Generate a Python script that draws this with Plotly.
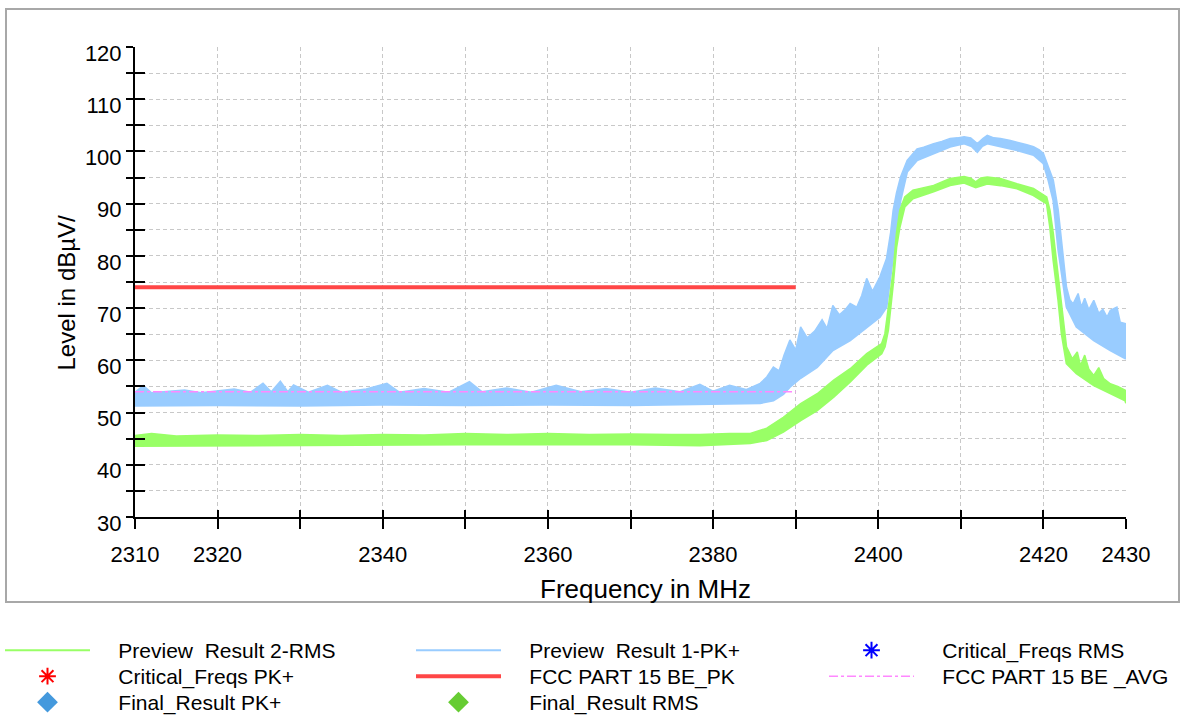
import plotly.graph_objects as go

# ---- measured spectra (frequency in MHz, level in dBuV/m) ----
# Preview Result 1-PK+ : upper and lower edge of the peak trace band
pk_upper_freq = [2310, 2311, 2312, 2316, 2318, 2322, 2324, 2325.5, 2326.5, 2327.6, 2328.5, 2329.2,
                 2331, 2333.3, 2335, 2338, 2340.5, 2342, 2345, 2348, 2350.5, 2352, 2355, 2358,
                 2361, 2364, 2367, 2370, 2373, 2376, 2378.4, 2380, 2382, 2384, 2385.7, 2386.5,
                 2387.3, 2388, 2388.6, 2389.3, 2390, 2390.6, 2391.4, 2392.3, 2393.2, 2393.8,
                 2394.5, 2395.3, 2396, 2396.6, 2397.4, 2398, 2398.6, 2399.3, 2400.2, 2401.0,
                 2401.5, 2401.8, 2402.2, 2402.7, 2403.5, 2404.0, 2404.7, 2405.5, 2406.7, 2407.7,
                 2408.7, 2409.6, 2410.4, 2411.2, 2412.0, 2412.7, 2413.2, 2414.0, 2414.8, 2416.0,
                 2416.8, 2418.0, 2418.8, 2419.5, 2420.0, 2420.6, 2421.2, 2421.8, 2422.4, 2422.8,
                 2423.2, 2423.6, 2424.2, 2424.6, 2425.0, 2425.5, 2426.1, 2426.7, 2427.2, 2427.7,
                 2428.1, 2428.9, 2429.3, 2430]
pk_upper_level = [53.9, 55.2, 53.8, 54.3, 53.8, 54.5, 53.9, 55.6, 54.0, 56.0, 54.0, 55.3,
                  53.9, 55.2, 53.9, 54.5, 55.6, 53.9, 54.6, 53.9, 55.9, 54.0, 54.7, 53.9,
                  55.2, 54.0, 54.6, 53.9, 54.7, 54.0, 55.4, 54.1, 55.2, 54.4, 55.6, 56.8,
                  58.7, 58.0, 61.0, 63.9, 62.0, 66.4, 64.3, 65.6, 67.8, 66.1,
                  70.5, 68.7, 69.7, 70.9, 70.2, 72.4, 75.7, 73.2, 76.0, 79.5,
                  84.5, 88.7, 92.0, 95.1, 98.3, 99.3, 100.5, 100.8, 101.5, 101.9,
                  102.5, 102.6, 102.8, 102.6, 101.5, 102.5, 103.1, 102.6, 102.5, 102.1,
                  101.8, 101.3, 100.9, 100.3, 99.6, 97.0, 94.5, 88.7, 80.5, 74.0,
                  71.6, 70.8, 72.8, 70.2, 71.9, 69.7, 71.5, 69.0, 69.8, 68.3,
                  69.6, 70.2, 67.3, 67.0]
pk_lower_freq = [2310, 2320, 2330, 2340, 2350, 2360, 2370, 2380, 2384, 2385.7, 2387.3, 2388.5,
                 2389.3, 2390.6, 2392.6, 2394.5, 2396.6, 2398.6, 2400.2, 2401.0, 2401.8, 2402.7,
                 2403.5, 2404.7, 2406.7, 2408.7, 2410.4, 2411.3, 2412.0, 2412.6, 2413.2, 2414.8,
                 2416.8, 2418.8, 2420.0, 2420.6, 2421.2, 2421.8, 2422.4, 2422.8, 2424.0, 2426.1,
                 2428.1, 2429.3, 2430]
pk_lower_level = [51.3, 51.4, 51.3, 51.5, 51.4, 51.5, 51.4, 51.6, 51.7, 51.8, 52.3, 53.5,
                  54.9, 56.6, 58.7, 61.9, 63.8, 66.4, 68.3, 70.2, 79.8, 90.6,
                  96.1, 98.3, 99.6, 100.9, 101.5, 101.0, 99.9, 101.0, 101.5, 100.9,
                  100.2, 99.3, 97.7, 94.5, 90.6, 81.1, 74.0, 70.2, 66.4, 63.8,
                  61.9, 60.8, 60.3]

# Preview Result 2-RMS : upper and lower edge of the RMS trace band
rms_upper_freq = [2310, 2312, 2315, 2320, 2325, 2330, 2335, 2340, 2345, 2350, 2355, 2360, 2365,
                  2370, 2375, 2378.4, 2382, 2384.5, 2386.5, 2388.5, 2390.6, 2392.6, 2394.6,
                  2396.6, 2398.6, 2400.4, 2400.8, 2401.2, 2401.8, 2402.2, 2402.6, 2403.2,
                  2404.2, 2406.7, 2408.7, 2410.4, 2411.2, 2411.8, 2412.4, 2413.2, 2414.8,
                  2416.8, 2418.8, 2420.4, 2420.8, 2421.2, 2421.8, 2422.2, 2422.8, 2423.5,
                  2424.1, 2424.5, 2425.0, 2425.5, 2426.1, 2426.7, 2427.3, 2428.1, 2429.0,
                  2429.9, 2430]
rms_upper_level = [45.6, 46.0, 45.5, 45.7, 45.6, 45.8, 45.6, 45.8, 45.7, 46.0, 45.8, 46.0, 45.8,
                   45.9, 45.8, 45.8, 46.0, 46.0, 47.0, 49.1, 51.7, 53.6, 56.2,
                   58.4, 61.3, 63.2, 65.1, 69.6, 77.2, 84.3, 88.7, 91.3,
                   92.6, 93.5, 94.8, 95.2, 94.9, 94.2, 94.9, 95.1, 94.8,
                   93.8, 92.9, 91.3, 88.7, 84.3, 76.0, 70.2, 62.6, 60.3,
                   61.6, 59.0, 61.0, 58.3, 57.1, 58.6, 56.5, 55.5, 55.0,
                   54.3, 54.2]
rms_lower_freq = [2310, 2320, 2330, 2340, 2350, 2360, 2370, 2378.4, 2384.5, 2386.5, 2388.5,
                  2390.6, 2392.6, 2394.6, 2396.6, 2398.6, 2400.4, 2400.8, 2401.2, 2401.8,
                  2402.2, 2402.6, 2403.2, 2404.2, 2406.7, 2408.7, 2410.4, 2411.8, 2413.2,
                  2414.8, 2416.8, 2418.8, 2420.4, 2420.8, 2421.2, 2421.8, 2422.2, 2422.8,
                  2424.0, 2426.1, 2428.1, 2429.9, 2430]
rms_lower_level = [43.6, 43.7, 43.7, 43.8, 43.9, 43.9, 43.9, 43.7, 44.1, 44.7, 46.3,
                   48.5, 50.4, 53.0, 55.9, 59.1, 61.3, 62.6, 65.8, 74.7,
                   81.7, 85.5, 89.4, 91.0, 92.3, 93.5, 94.0, 93.1, 93.8,
                   93.5, 92.9, 91.6, 90.0, 85.5, 79.2, 71.5, 65.1, 59.4,
                   57.5, 55.2, 53.6, 52.3, 51.8]

# ---- limit lines ----
limit_freq = [2310, 2390]
limit_pk_level = [74, 74]
limit_avg_level = [54, 54]

# ---- final / critical measurement points (none in this sweep) ----
crit_pk_freq, crit_pk_level = [], []
crit_rms_freq, crit_rms_level = [], []
final_pk_freq, final_pk_level = [], []
final_rms_freq, final_rms_level = [], []

# ---- axis ticks ----
x_tickvals = list(range(2310, 2431, 10))
x_ticktext = ["2310", "2320", "", "2340", "", "2360", "", "2380", "", "2400", "", "2420", "2430"]
y_tickvals = list(range(30, 121, 10))

FONT = "Liberation Sans, Arial, sans-serif"
BLUE = "#99ccff"
GREEN = "#99ff66"
PAD = "    "  # gap between legend symbol and legend text

W, H = 1189, 719
# legend grid: symbol-box left edge per column, text centre per row (pixels)
col_px = [0, 411, 824]
row_px = [650.5, 676.5, 702.5]


def legend_box(col, row):
    return dict(xref="container", yref="container", x=col_px[col] / W, y=1 - row_px[row] / H,
                xanchor="left", yanchor="middle", orientation="v", itemwidth=85,
                bgcolor="rgba(0,0,0,0)", borderwidth=0, font=dict(size=21, color="black"))


def pts(values):
    return values if values else [None]


fig = go.Figure()

# peak preview band
fig.add_trace(go.Scatter(x=pk_lower_freq, y=pk_lower_level, mode="lines", name=PAD + "Preview  Result 1-PK+",
                         line=dict(color=BLUE, width=2), legend="legend2"))
fig.add_trace(go.Scatter(x=pk_upper_freq, y=pk_upper_level, mode="lines", showlegend=False,
                         line=dict(color=BLUE, width=1.5), fill="tonexty", fillcolor=BLUE))

# RMS preview band
fig.add_trace(go.Scatter(x=rms_lower_freq, y=rms_lower_level, mode="lines", name=PAD + "Preview  Result 2-RMS",
                         line=dict(color=GREEN, width=2), legend="legend"))
fig.add_trace(go.Scatter(x=rms_upper_freq, y=rms_upper_level, mode="lines", showlegend=False,
                         line=dict(color=GREEN, width=1.5), fill="tonexty", fillcolor=GREEN))

# limit lines
fig.add_trace(go.Scatter(x=limit_freq, y=limit_pk_level, mode="lines", name=PAD + "FCC PART 15 BE_PK",
                         line=dict(color="#ff4646", width=4), legend="legend5"))
fig.add_trace(go.Scatter(x=limit_freq, y=limit_avg_level, mode="lines", name=PAD + "FCC PART 15 BE _AVG",
                         line=dict(color="#ff88ff", width=1.5, dash="dashdot"), legend="legend6"))

# critical and final points
fig.add_trace(go.Scatter(x=pts(crit_rms_freq), y=pts(crit_rms_level), mode="markers",
                         name=PAD + "Critical_Freqs RMS",
                         marker=dict(symbol="asterisk-open", size=14, color="#0000ff",
                                     line=dict(color="#0000ff", width=2)), legend="legend3"))
fig.add_trace(go.Scatter(x=pts(crit_pk_freq), y=pts(crit_pk_level), mode="markers",
                         name=PAD + "Critical_Freqs PK+",
                         marker=dict(symbol="asterisk-open", size=14, color="#ff0000",
                                     line=dict(color="#ff0000", width=2)), legend="legend4"))
fig.add_trace(go.Scatter(x=pts(final_pk_freq), y=pts(final_pk_level), mode="markers",
                         name=PAD + "Final_Result PK+",
                         marker=dict(symbol="diamond", size=20, color="#4499dd"), legend="legend7"))
fig.add_trace(go.Scatter(x=pts(final_rms_freq), y=pts(final_rms_level), mode="markers",
                         name=PAD + "Final_Result RMS",
                         marker=dict(symbol="diamond", size=20, color="#66cc33"), legend="legend8"))

# companion axes carry the inner half of the crossing tick marks
fig.add_trace(go.Scatter(x=[None], y=[None], xaxis="x2", yaxis="y2", showlegend=False, hoverinfo="skip"))

grid = dict(showgrid=True, gridcolor="#c8c8c8", gridwidth=1, griddash="4px,3px")

fig.update_layout(
    width=W, height=H,
    margin=dict(l=135, r=63, t=47, b=202, autoexpand=False),
    paper_bgcolor="white", plot_bgcolor="white",
    font=dict(family=FONT, size=20, color="black"),
    xaxis=dict(range=[2310, 2430], tickmode="array", tickvals=x_tickvals, ticktext=x_ticktext,
               ticks="outside", ticklen=10, tickwidth=2, tickcolor="black", ticklabelstandoff=7,
               showline=True, linecolor="black", linewidth=2, zeroline=False,
               tickfont=dict(size=22), **grid),
    yaxis=dict(range=[30, 120], tickmode="array", tickvals=y_tickvals,
               ticks="outside", ticklen=7, tickwidth=2, tickcolor="black",
               ticklabelshift=6,
               showline=True, linecolor="black", linewidth=2, zeroline=False,
               tickfont=dict(size=22), **grid,
               minor=dict(dtick=5, ticks="outside", ticklen=7, tickwidth=2, tickcolor="black",
                          showgrid=True, gridcolor="#c8c8c8", gridwidth=1, griddash="4px,3px")),
    xaxis2=dict(overlaying="x", anchor="y", side="bottom", range=[2310, 2430], tickmode="array",
                tickvals=x_tickvals, showticklabels=False, ticks="inside", ticklen=7, tickwidth=2,
                tickcolor="black", showgrid=False, zeroline=False, showline=False),
    yaxis2=dict(overlaying="y", anchor="x", side="left", range=[30, 120], tickmode="array",
                tickvals=y_tickvals, showticklabels=False, ticks="inside", ticklen=10, tickwidth=2,
                tickcolor="black", showgrid=False, zeroline=False, showline=False,
                minor=dict(dtick=5, ticks="inside", ticklen=10, tickwidth=2, tickcolor="black")),
    legend=legend_box(0, 0),
    legend2=legend_box(1, 0),
    legend3=legend_box(2, 0),
    legend4=legend_box(0, 1),
    legend5=legend_box(1, 1),
    legend6=legend_box(2, 1),
    legend7=legend_box(0, 2),
    legend8=legend_box(1, 2),
    annotations=[
        dict(text="Frequency in MHz", xref="paper", yref="paper", x=(645 - 135) / 991, y=(517 - 589) / 470,
             xanchor="center", yanchor="middle", showarrow=False, font=dict(size=26)),
        dict(text="Level in dBµV/", xref="paper", yref="paper", x=(66 - 135) / 991, y=(517 - 292.5) / 470,
             xanchor="center", yanchor="middle", textangle=-90, showarrow=False, font=dict(size=24)),
    ],
    shapes=[
        dict(type="rect", xref="paper", yref="paper",
             x0=(6 - 135) / 991, x1=(1179 - 135) / 991, y0=(517 - 602) / 470, y1=(517 - 9) / 470,
             line=dict(color="#a8a8a8", width=2), fillcolor="rgba(0,0,0,0)", layer="below"),
    ],
)

fig.write_html("out.html")
